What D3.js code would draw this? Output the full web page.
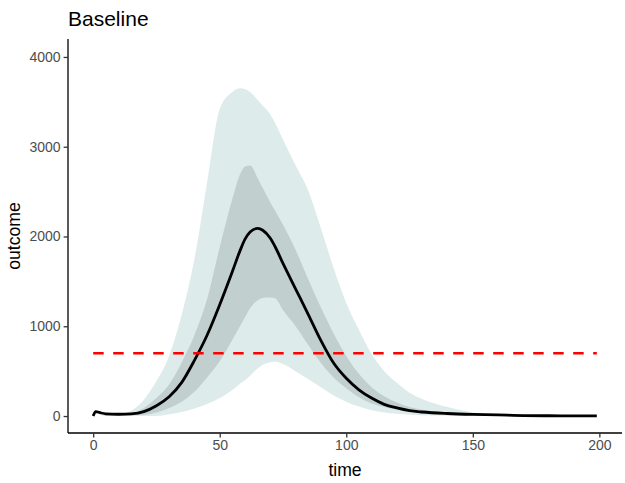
<!DOCTYPE html>
<html>
<head>
<meta charset="utf-8">
<script src="https://cdn.jsdelivr.net/npm/d3@7"></script>
<style>
  body { margin: 0; background: #fff; }
  svg { font-family: "Liberation Sans", Arial, sans-serif; }
</style>
</head>
<body>
<svg id="chart" width="625" height="483"></svg>
<script>
// time points
var time   = [0, 1, 3, 5, 10, 15, 20, 25, 30, 35, 40, 45, 50, 55, 58, 60, 62, 65, 67, 70, 72, 75, 80, 85, 90, 95, 100, 105, 110, 115, 120, 125, 130, 140, 150, 160, 170, 180, 190, 199];
// median outcome
var median = [0, 50, 35, 25, 20, 25, 50, 115, 215, 375, 620, 900, 1240, 1610, 1840, 1970, 2050, 2090, 2070, 1980, 1880, 1700, 1415, 1130, 840, 590, 420, 292, 200, 130, 90, 60, 45, 28, 18, 12, 5, 3, 2, 1];
// 50% band
var lo50   = [0, 0, 0, 0, 5, 10, 15, 40, 90, 160, 270, 430, 610, 850, 1000, 1100, 1200, 1290, 1315, 1320, 1310, 1180, 1000, 790, 590, 430, 310, 210, 140, 100, 70, 50, 35, 20, 12, 8, 4, 2, 1, 0];
var hi50   = [0, 0, 0, 5, 20, 30, 90, 200, 350, 600, 900, 1300, 1880, 2420, 2690, 2780, 2790, 2650, 2540, 2380, 2280, 2130, 1850, 1520, 1210, 920, 670, 470, 320, 220, 150, 100, 70, 40, 25, 15, 8, 4, 3, 2];
// 95% band
var lo95   = [0, 0, 0, 0, 0, 0, 0, 0, 20, 45, 85, 135, 200, 290, 360, 400, 450, 530, 570, 600, 605, 580, 500, 410, 320, 230, 160, 105, 65, 40, 25, 15, 8, 3, 0, 0, 0, 0, 0, 0];
var hi95   = [0, 0, 0, 5, 15, 60, 180, 390, 670, 1130, 1750, 2600, 3420, 3610, 3650, 3640, 3610, 3520, 3460, 3360, 3260, 3080, 2790, 2510, 2090, 1650, 1260, 960, 690, 500, 370, 260, 190, 100, 40, 15, 6, 3, 2, 1];
var threshold = 700;

var xTicks = [0, 50, 100, 150, 200];
var yTicks = [0, 1000, 2000, 3000, 4000];

var data = time.map(function(t, i) {
  return {t: t, m: median[i], lo50: lo50[i], hi50: hi50[i], lo95: lo95[i], hi95: hi95[i]};
});

var svg = d3.select("#chart");
// panel edges (names avoid window.top)
var pLeft = 68, pRight = 622, pTop = 39, pBottom = 433;

var x = d3.scaleLinear().domain([-9.95, 208.95]).range([pLeft, pRight]);
var y = d3.scaleLinear().domain([-189, 4200]).range([pBottom, pTop]);

var curve = d3.curveMonotoneX;

svg.append("path")
  .datum(data)
  .attr("fill", "#deebeb")
  .attr("d", d3.area().curve(curve).x(d => x(d.t)).y0(d => y(d.lo95)).y1(d => y(d.hi95)));

svg.append("path")
  .datum(data)
  .attr("fill", "#c2cfcf")
  .attr("d", d3.area().curve(curve).x(d => x(d.t)).y0(d => y(d.lo50)).y1(d => y(d.hi50)));

svg.append("path")
  .datum(data)
  .attr("fill", "none")
  .attr("stroke", "#000")
  .attr("stroke-width", 2.8)
  .attr("stroke-linejoin", "round")
  .attr("d", d3.line().curve(curve).x(d => x(d.t)).y(d => y(d.m)));

svg.append("line")
  .attr("x1", x(0)).attr("x2", x(199))
  .attr("y1", y(threshold)).attr("y2", y(threshold))
  .attr("stroke", "#ff0000")
  .attr("stroke-width", 2.6)
  .attr("stroke-dasharray", "10.5,9.5");

// axes
var xAxis = svg.append("g")
  .attr("transform", "translate(0," + pBottom + ")")
  .call(d3.axisBottom(x).tickValues(xTicks).tickFormat(d3.format("d")).tickSize(4.4).tickPadding(3));
var yAxis = svg.append("g")
  .attr("transform", "translate(" + pLeft + ",0)")
  .call(d3.axisLeft(y).tickValues(yTicks).tickFormat(d3.format("d")).tickSize(4.4).tickPadding(3));

[xAxis, yAxis].forEach(function(g) {
  g.attr("font-size", null).attr("font-family", null);
  g.select(".domain").attr("stroke", "#000").attr("stroke-width", 1.3);
  g.selectAll(".tick line").attr("stroke", "#333").attr("stroke-width", 1.3);
  g.selectAll(".tick text")
    .attr("fill", "#4d4d4d")
    .style("font-size", "14px");
});
// ggplot axis lines stop at the panel edges
xAxis.select(".domain").attr("d", "M" + pLeft + ",0H" + pRight);
yAxis.select(".domain").attr("d", "M0," + pBottom + "V" + pTop);

svg.append("text")
  .attr("x", pLeft).attr("y", 26)
  .style("font-size", "21px")
  .attr("fill", "#000")
  .text("Baseline");

svg.append("text")
  .attr("x", (pLeft + pRight) / 2).attr("y", 476)
  .attr("text-anchor", "middle")
  .style("font-size", "17.6px")
  .text("time");

svg.append("text")
  .attr("transform", "translate(20," + (pTop + pBottom) / 2 + ") rotate(-90)")
  .attr("text-anchor", "middle")
  .style("font-size", "17.6px")
  .text("outcome");
</script>
</body>
</html>
